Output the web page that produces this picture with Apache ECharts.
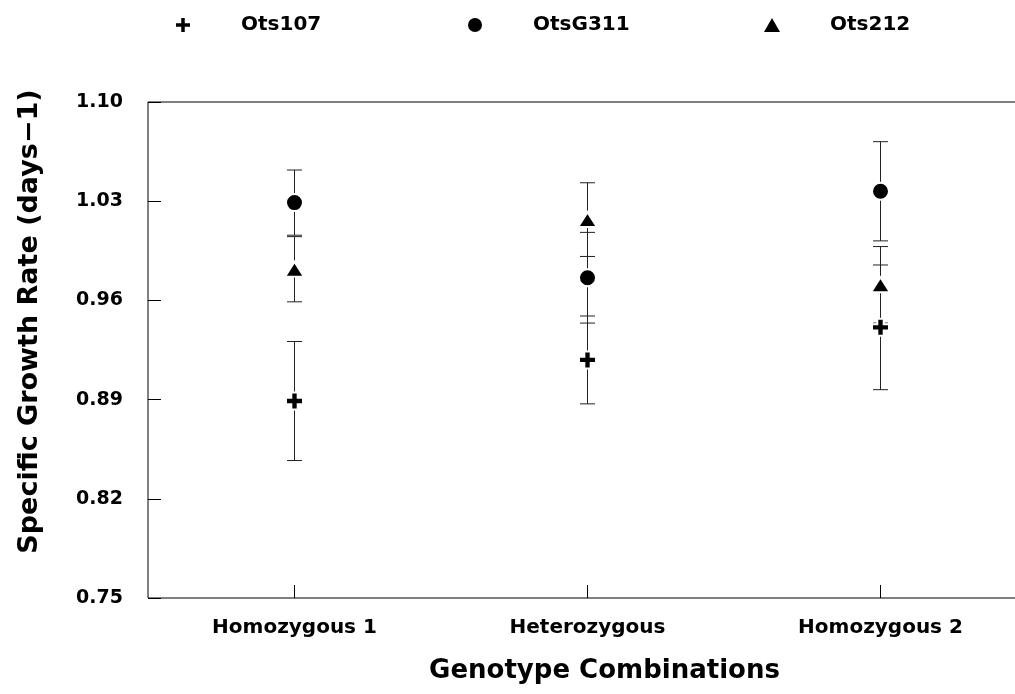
<!DOCTYPE html>
<html>
<head>
<meta charset="utf-8">
<script src="https://cdn.jsdelivr.net/npm/echarts@6/dist/echarts.min.js"></script>
<style>html,body{margin:0;padding:0;background:#fff}#chart{width:1015px;height:694px}</style>
</head>
<body>
<div id="chart"></div>
<script>
// ---- data ----
const categories = ['Homozygous 1', 'Heterozygous', 'Homozygous 2'];
const seriesNames = ['Ots107', 'OtsG311', 'Ots212'];
const ots107Mean = [0.889, 0.918, 0.941];
const ots107Err  = [0.042, 0.031, 0.044];
const otsG311Mean = [1.029, 0.976, 1.037];
const otsG311Err  = [0.023, 0.032, 0.035];
const ots212Mean = [0.982, 1.017, 0.971];
const ots212Err  = [0.023, 0.026, 0.027];
const yMin = 0.75, yMax = 1.10, yStep = 0.07;

// ---- styling ----
const FONT = 'DejaVu Sans';
const plusPath = 'path://M5,0H11V5H16V11H11V16H5V11H0V5H5Z';
const plusLegend = 'path://M6,0H10V6H16V10H10V16H6V10H0V6H6Z';
const triPath = 'path://M8,0L16,14H0Z';

const means = [ots107Mean, otsG311Mean, ots212Mean];
const errs = [ots107Err, otsG311Err, ots212Err];
const symbols = [plusPath, 'circle', triPath];
const symbolSizes = [17, 17, [19, 17]];
const legendIcons = [plusLegend, 'circle', triPath];
const legendLefts = [171, 463, 759];

const series = [];
// error bars
means.forEach((m, s) => {
  series.push({
    type: 'custom',
    name: seriesNames[s] + ' err',
    z: 1,
    silent: true,
    data: m.map((v, i) => [i, v - errs[s][i], v + errs[s][i]]),
    renderItem: function (params, api) {
      const lo = api.coord([api.value(0), api.value(1)]);
      const hi = api.coord([api.value(0), api.value(2)]);
      const hw = 7.5;
      const st = { stroke: '#222', lineWidth: 1 };
      return {
        type: 'group',
        children: [
          { type: 'line', shape: { x1: lo[0], y1: lo[1], x2: hi[0], y2: hi[1] }, style: st },
          { type: 'line', shape: { x1: lo[0] - hw, y1: lo[1], x2: lo[0] + hw, y2: lo[1] }, style: st },
          { type: 'line', shape: { x1: hi[0] - hw, y1: hi[1], x2: hi[0] + hw, y2: hi[1] }, style: st }
        ]
      };
    }
  });
});
// markers
means.forEach((m, s) => {
  series.push({
    type: 'scatter',
    name: seriesNames[s],
    z: 5,
    symbol: symbols[s],
    symbolSize: symbolSizes[s],
    symbolKeepAspect: true,
    itemStyle: { color: '#000', borderColor: '#fff', borderWidth: 2, opacity: 1 },
    data: m.map((v, i) => [i, v])
  });
});

const legends = seriesNames.map((n, s) => ({
  left: legendLefts[s],
  top: 10,
  itemWidth: 106,
  itemHeight: 14,
  symbolKeepAspect: true,
  selectedMode: false,
  itemStyle: { borderWidth: 0 },
  textStyle: { fontFamily: FONT, fontWeight: 'bold', fontSize: 20, color: '#000' },
  data: [{ name: n, icon: legendIcons[s] }]
}));

const option = {
  animation: false,
  backgroundColor: '#fff',
  legend: legends,
  grid: {
    left: 148, top: 102, width: 879, height: 496,
    outerBoundsMode: 'none',
    containLabel: false,
    show: true, borderColor: '#000', borderWidth: 1, backgroundColor: 'transparent'
  },
  xAxis: {
    type: 'category',
    data: categories,
    boundaryGap: true,
    axisLine: { show: false },
    axisTick: { show: true, inside: true, alignWithLabel: true, length: 13, lineStyle: { color: '#000', width: 1 } },
    axisLabel: { margin: 20, fontFamily: FONT, fontWeight: 'bold', fontSize: 20, color: '#000' },
    splitLine: { show: false },
    name: 'Genotype Combinations',
    nameLocation: 'middle',
    nameGap: 60,
    nameTextStyle: { fontFamily: FONT, fontWeight: 'bold', fontSize: 26, color: '#000', padding: [0, 0, 0, 34] }
  },
  yAxis: {
    type: 'value',
    min: yMin, max: yMax, interval: yStep,
    axisLine: { show: false },
    axisTick: { show: true, inside: true, length: 13, lineStyle: { color: '#000', width: 1 } },
    axisLabel: {
      margin: 25, fontFamily: FONT, fontWeight: 'bold', fontSize: 19, color: '#000',
      formatter: v => v.toFixed(2)
    },
    splitLine: { show: false },
    name: 'Specific Growth Rate (days\u22121)',
    nameLocation: 'middle',
    nameGap: 105,
    nameTextStyle: { fontFamily: FONT, fontWeight: 'bold', fontSize: 27, color: '#000', padding: [0, 0, 0, 57] }
  },
  series: series
};

const chart = echarts.init(document.getElementById('chart'), null, { renderer: 'canvas' });
chart.setOption(option);
</script>
</body>
</html>
